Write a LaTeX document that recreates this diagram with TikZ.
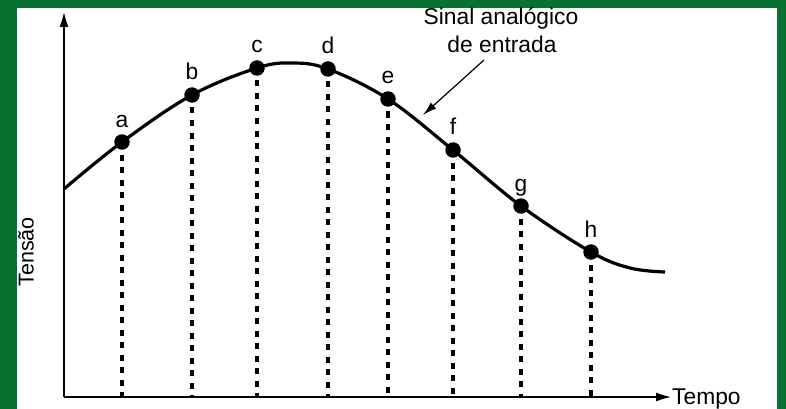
\documentclass[tikz,border=0pt]{standalone}
\usepackage{fontspec}
\setmainfont{Liberation Sans}
\usetikzlibrary{arrows.meta}
\definecolor{frame}{RGB}{8,112,48}
\begin{document}
\begin{tikzpicture}[x=1pt,y=-1pt,
  txt/.style={font=\fontsize{22.8}{27}\selectfont, inner sep=0pt},
  pt/.style={circle, fill=black, minimum size=15.5pt, inner sep=0pt},
  drop/.style={line width=3.2pt, dash pattern=on 6pt off 6.5pt},
  axis/.style={line width=1.3pt, -{Latex[length=15pt,width=9pt]}},
  curve/.style={line width=3.2pt}]
\useasboundingbox (0,0) rectangle (786,409);
\fill[frame] (0,0) rectangle (786,409);
\fill[white] (17,8) rectangle (777,409);
% label Tensao (partially hidden by frame)
\node[txt, rotate=90, anchor=base, font=\fontsize{21.5}{26}\selectfont] (tensao) at (33.5,252) {Tensão};
\fill[frame] (0,0) rectangle (17,409);
% axes
\coordinate (O) at (64,397);
\coordinate (ytop) at (64,12);
\coordinate (xend) at (671,397);
\draw[axis] (O) -- (ytop);
\draw[axis] (O) -- (xend);
\node[txt, anchor=base west] (tempo) at (672,404) {Tempo};
% curve
\draw[curve] plot[smooth, tension=0.6] coordinates {(64,189) (122,142) (192,95) (257,68) (292,63) (328,69) (388,99) (453,150) (521,206) (591,252) (630,268) (665,272)};
% sample points
\foreach \n/\x/\y in {a/122/142, b/192/95, c/257/68, d/328/69, e/388/99, f/453/150, g/521/206, h/591/252}{
  \draw[drop] (\x,\y) -- (\x,397);
  \node[pt] (\n) at (\x,\y) {};
  \node[txt, anchor=base] (l\n) at (\x,\y-15) {\n};
}
% caption
\node[txt, anchor=base] (sig1) at (501,25) {Sinal analógico};
\node[txt, anchor=base] (sig2) at (502,53) {de entrada};
\coordinate (arrA) at (484,60);
\coordinate (arrB) at (423,115);
\draw[line width=1.2pt, -{Latex[length=14pt,width=8pt]}] (arrA) -- (arrB);
\end{tikzpicture}
\end{document}
